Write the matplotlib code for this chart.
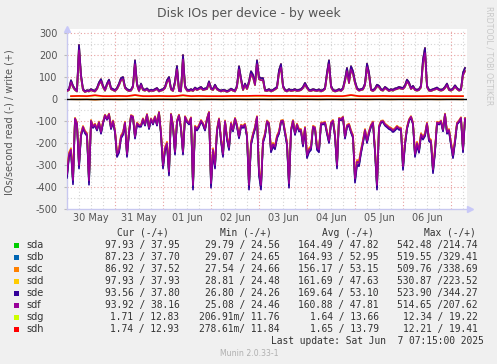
import numpy as np
import matplotlib
matplotlib.use('Agg')
import matplotlib.pyplot as plt
from matplotlib.patches import Rectangle

W, H = 497, 364

devices = ['sda', 'sdb', 'sdc', 'sdd', 'sde', 'sdf', 'sdg', 'sdh']
colors = ['#00cc00', '#0066b3', '#ff8000', '#ffcc00', '#330099', '#990099', '#ccff00', '#ff0000']
day_labels = ['30 May', '31 May', '01 Jun', '02 Jun', '03 Jun', '04 Jun', '05 Jun', '06 Jun']
y_ticks = [300, 200, 100, 0, -100, -200, -300, -400, -500]

# hourly writes (top envelope, sde-like) starting 30 May 00:00
write_main = [
    40, 45, 85, 60, 45, 38, 246, 110, 45, 35,
    40, 38, 45, 40, 38, 50, 75, 90, 60, 42,
    70, 88, 50, 45, 40, 50, 70, 95, 100, 55,
    45, 40, 42, 60, 176, 70, 40, 70, 45, 42,
    48, 38, 42, 40, 45, 50, 38, 42, 45, 55,
    85, 100, 48, 40, 80, 150, 40, 38, 200, 60,
    42, 40, 45, 40, 52, 45, 50, 55, 45, 48,
    50, 80, 50, 45, 65, 48, 42, 38, 42, 40,
    36, 40, 47, 42, 38, 60, 149, 95, 45, 70,
    50, 80, 126, 110, 70, 176, 100, 95, 95, 42,
    40, 45, 38, 42, 48, 55, 130, 159, 60, 42,
    38, 45, 40, 42, 45, 40, 42, 45, 55, 73,
    55, 42, 40, 45, 42, 40, 44, 38, 42, 50,
    120, 176, 60, 42, 38, 40, 45, 40, 50, 90,
    141, 80, 149, 126, 80, 50, 42, 45, 48, 70,
    161, 120, 45, 40, 48, 65, 60, 45, 42, 55,
    48, 40, 45, 42, 48, 50, 55, 52, 50, 62,
    88, 75, 50, 60, 45, 42, 45, 60, 180, 232,
    60, 42, 40, 45, 48, 52, 45, 42, 45, 55,
    70, 45, 42, 48, 62, 50, 42, 45, 120, 141,
]

# hourly reads (sdf-like), negative side
read_main = [
    -340, -250, -230, -368, -88, -110, -300, -160, -126, -148,
    -160, -370, -98, -125, -115, -136, -105, -150, -106, -73,
    -90, -68, -130, -100, -145, -250, -232, -170, -155, -106,
    -250, -150, -75, -80, -171, -110, -120, -120, -90, -115,
    -70, -130, -90, -110, -80, -115, -60, -155, -300, -224,
    -200, -330, -68, -120, -240, -100, -73, -130, -240, -80,
    -100, -110, -85, -391, -125, -136, -121, -98, -112, -136,
    -90, -60, -383, -230, -300, -140, -90, -182, -250, -100,
    -176, -220, -110, -140, -88, -120, -170, -120, -125, -115,
    -165, -391, -200, -160, -130, -80, -330, -391, -190, -160,
    -100, -110, -230, -205, -217, -170, -150, -100, -98, -148,
    -200, -383, -140, -98, -155, -115, -140, -140, -205, -130,
    -255, -230, -220, -125, -130, -220, -230, -110, -110, -106,
    -150, -190, -108, -98, -164, -300, -88, -92, -82, -171,
    -121, -115, -145, -168, -361, -285, -290, -235, -190, -140,
    -190, -150, -120, -105, -232, -391, -125, -102, -100, -115,
    -122, -130, -134, -143, -136, -125, -133, -134, -306, -200,
    -130, -95, -80, -110, -250, -200, -232, -160, -175, -160,
    -110, -182, -190, -320, -232, -106, -110, -100, -140, -68,
    -150, -140, -200, -255, -189, -110, -100, -85, -230, -88,
]

# legend averages used as per-device level ratios
avg_read = [164.49, 164.93, 156.17, 161.69, 169.64, 160.88]
avg_write = [47.82, 52.95, 53.15, 47.63, 53.10, 47.81]

# sdg / sdh, 4-hourly
sdh_write = [13, 14, 13, 17, 13, 13, 14, 13, 18, 13, 13, 14, 13, 13, 17, 13, 14,
             13, 13, 13, 14, 14, 14, 15, 15, 14, 14, 14, 14, 13, 13, 13, 14, 13,
             13, 18, 13, 13, 13, 14, 13, 13, 13, 13, 13, 14, 13, 13, 13, 13]
sdg_write = [12.5, 13, 12.5, 16, 12.5, 12.5, 13, 12.5, 17, 12.5, 12.5, 13, 12.5,
             12.5, 16, 12.5, 13, 12.5, 12.5, 12.5, 13, 13.5, 13.5, 14, 14, 13.5,
             13.5, 13, 13, 12.5, 12.5, 12.5, 13, 12.5, 12.5, 17, 12.5, 12.5, 12.5,
             13, 12.5, 12.5, 12.5, 12.5, 12.5, 13, 12.5, 12.5, 12.5, 12.5]
sdg_read = [-1.5, -2, -1.5, -3, -1.5, -1.5, -2, -1.5, -1, -1.5, -2, -1.5, -1.5,
            -2, -1.5, -1.5, -2, -1.5, -1.5, -2, -1.5, -1.5, -2, -1.5, -1.5, -2,
            -1.5, -1.5, -2, -1.5, -1.5, -2, -1.5, -1.5, -2, -1.5, -1.5, -2, -1.5,
            -1.5, -2, -1.5, -1.5, -2, -1.5, -1.5, -2, -1.5, -1.5, -2]
sdh_read = [-1.6, -2, -1.6, -3, -1.6, -1.6, -2, -1.6, -1.2, -1.6, -2, -1.6, -1.6,
            -2, -1.6, -1.6, -2, -1.6, -1.6, -2, -1.6, -1.6, -2, -1.6, -1.6, -2,
            -1.6, -1.6, -2, -1.6, -1.6, -2, -1.6, -1.6, -2, -1.6, -1.6, -2, -1.6,
            -1.6, -2, -1.6, -1.6, -2, -1.6, -1.6, -2, -1.6, -1.6, -2]

legend_cur = ['97.93 / 37.95', '87.23 / 37.70', '86.92 / 37.52', '97.93 / 37.93',
              '93.56 / 37.80', '93.92 / 38.16', '1.71 / 12.83', '1.74 / 12.93']
legend_min = ['29.79 / 24.56', '29.07 / 24.65', '27.54 / 24.66', '28.81 / 24.48',
              '26.80 / 24.26', '25.08 / 24.46', '206.91m/ 11.76', '278.61m/ 11.84']
legend_avg = ['164.49 / 47.82', '164.93 / 52.95', '156.17 / 53.15', '161.69 / 47.63',
              '169.64 / 53.10', '160.88 / 47.81', '1.64 / 13.66', '1.65 / 13.79']
legend_max = ['542.48 /214.74', '519.55 /329.41', '509.76 /338.69', '530.87 /223.52',
              '523.90 /344.27', '514.65 /207.62', '12.34 / 19.22', '12.21 / 19.41']
headers = ['Cur (-/+)', 'Min (-/+)', 'Avg (-/+)', 'Max (-/+)']

BG = '#f0f0f0'
fig = plt.figure(figsize=(W / 100, H / 100), dpi=100, facecolor=BG)


def fx(x):
    return x / W


def fy(y):
    return 1 - y / H


ax_top, ax_bot, ax_l, ax_r = 28.6, 209, 67, 467
ax = fig.add_axes([fx(ax_l), fy(ax_bot), (ax_r - ax_l) / W, (ax_bot - ax_top) / H])
ax.set_facecolor('white')
ymax = 320
ax.set_xlim(0, 200)
ax.set_ylim(-500, ymax)

# grid
for h in range(6, 200, 6):
    c = '#e8a0a0' if h % 24 == 0 else '#d4d4d4'
    ax.axvline(h, color=c, lw=0.8, ls=(0, (1, 2)), zorder=1)
for v in range(-450, ymax, 50):
    if v == 0:
        continue
    c = '#e8a0a0' if v % 100 == 0 else '#d4d4d4'
    ax.axhline(v, color=c, lw=0.8, ls=(0, (1, 2)), zorder=1)

hours = np.arange(len(write_main))
w_arr = np.array(write_main, dtype=float)
r_arr = np.array(read_main, dtype=float)
for i in range(6):
    ws = w_arr * avg_write[i] / avg_write[4]
    rs = r_arr * avg_read[i] / avg_read[5]
    ax.plot(hours, rs, color=colors[i], lw=1.2, zorder=3 + i)
    ax.plot(hours, ws, color=colors[i], lw=1.2, zorder=3 + i)

h4 = np.arange(len(sdh_write)) * 4 + 2
ax.plot(h4, sdg_read, color=colors[6], lw=1.0, zorder=10)
ax.plot(h4, sdh_read, color=colors[7], lw=1.0, zorder=11)
ax.axhline(0, color='black', lw=1.0, zorder=12)
ax.plot(h4, sdg_write, color=colors[6], lw=1.2, zorder=13)
ax.plot(h4, sdh_write, color=colors[7], lw=1.2, zorder=14)

for s in ['top', 'right']:
    ax.spines[s].set_visible(False)
for s in ['left', 'bottom']:
    ax.spines[s].set_color('#c8c8f0')
    ax.spines[s].set_linewidth(1.0)
ax.plot([0], [1.0], marker='^', color='#c8c8f8', ms=5, transform=ax.transAxes,
        clip_on=False, zorder=20)
ax.plot([1.008], [0], marker='>', color='#c8c8f8', ms=5, transform=ax.transAxes,
        clip_on=False, zorder=20)

ax.set_yticks(y_ticks)
ax.set_yticklabels([str(v) for v in y_ticks])
ax.set_xticks(np.arange(12, 200, 24))
ax.set_xticklabels(day_labels)
ax.tick_params(axis='y', length=2, pad=5, color='#bbbbbb', labelsize=7, labelcolor='#555555')
ax.tick_params(axis='x', length=0, pad=3, labelsize=7, labelcolor='#555555')

fig.text(fx(249), fy(13), 'Disk IOs per device - by week', ha='center', va='center',
         fontsize=8.9, color='#555555')
fig.text(fx(10), fy(122), 'IOs/second read (-) / write (+)', ha='center', va='center',
         rotation=90, fontsize=7, color='#555555')
fig.text(fx(489), fy(56), 'RRDTOOL / TOBI OETIKER', ha='center', va='center',
         rotation=270, fontsize=5.6, color='#c8c8c8')

mono = 'DejaVu Sans Mono'
fs = 6.9
txt = '#333333'
hx = [117, 220, 322, 424]
for x, t in zip(hx, headers):
    fig.text(fx(x), fy(233), t, ha='left', va='center', family=mono, fontsize=fs, color=txt)
cols_r = [179.5, 279.5, 378.5, 477.5]
for i, dev in enumerate(devices):
    y = 245 + i * 12.05
    fig.patches.append(Rectangle((fx(14), fy(y + 3)), 5 / W, 5.5 / H, transform=fig.transFigure,
                                 facecolor=colors[i], edgecolor='none'))
    fig.text(fx(26.5), fy(y), dev, ha='left', va='center', fontsize=7, color=txt)
    for xr, col in zip(cols_r, [legend_cur, legend_min, legend_avg, legend_max]):
        fig.text(fx(xr), fy(y), col[i], ha='right', va='center', family=mono,
                 fontsize=fs, color=txt)
fig.text(fx(483.5), fy(341.5), 'Last update: Sat Jun  7 07:15:00 2025', ha='right',
         va='center', family=mono, fontsize=fs, color=txt)
fig.text(fx(249), fy(353.5), 'Munin 2.0.33-1', ha='center', va='center',
         fontsize=5.6, color='#b0b0b0')

fig.savefig('out.png', dpi=100, facecolor=BG)
